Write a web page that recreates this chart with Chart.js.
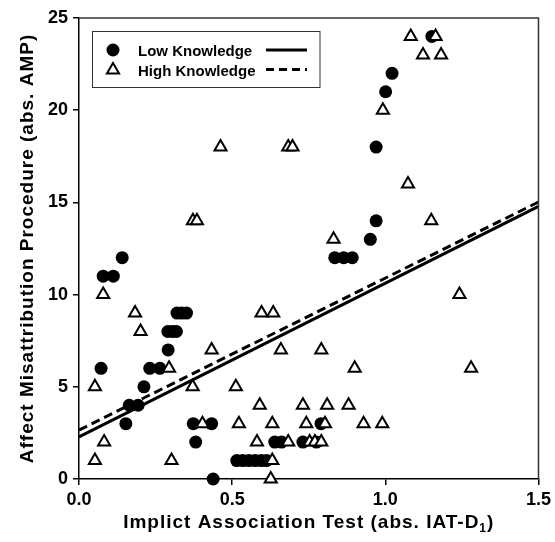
<!DOCTYPE html>
<html>
<head>
<meta charset="utf-8">
<script src="https://cdn.jsdelivr.net/npm/chart.js@4.4.1/dist/chart.umd.min.js"></script>
<style>
  html, body { margin: 0; padding: 0; background: #fff; }
  #wrap { width: 555px; height: 542px; }
</style>
</head>
<body>
<div id="wrap"><canvas id="chart" width="555" height="542"></canvas></div>
<script>
// Low knowledge participants (filled circles)
var lowX = [1.152, 1.022, 1.001, 0.970, 0.970, 0.951, 0.835, 0.864, 0.892, 0.141,
            0.079, 0.112, 0.320, 0.335, 0.351, 0.290, 0.305, 0.318, 0.291, 0.072,
            0.231, 0.264, 0.212, 0.164, 0.193, 0.153, 0.373, 0.433, 0.790, 0.381,
            0.639, 0.661, 0.731, 0.775, 0.515, 0.535, 0.555, 0.575, 0.595, 0.612,
            0.438];
var lowY = [24, 22, 21, 18, 14, 13, 12, 12, 12, 12,
            11, 11, 9, 9, 9, 8, 8, 8, 7, 6,
            6, 6, 5, 4, 4, 3, 3, 3, 3, 2,
            2, 2, 2, 2, 1, 1, 1, 1, 1, 1,
            0];

// High knowledge participants (open triangles)
var highX = [1.083, 1.164, 1.123, 1.182, 0.992, 0.462, 0.683, 0.697, 1.074, 0.372,
             0.385, 1.150, 0.831, 0.079, 1.242, 0.183, 0.596, 0.634, 0.201, 0.433,
             0.659, 0.791, 0.294, 0.900, 1.280, 0.052, 0.371, 0.512, 0.590, 0.731,
             0.810, 0.880, 0.403, 0.522, 0.631, 0.742, 0.803, 0.929, 0.990, 0.082,
             0.581, 0.683, 0.753, 0.770, 0.791, 0.052, 0.302, 0.631, 0.626];
var highY = [24, 24, 23, 23, 20, 18, 18, 18, 16, 14,
             14, 14, 13, 10, 10, 9, 9, 9, 8, 7,
             7, 7, 6, 6, 6, 5, 5, 5, 4, 4,
             4, 4, 3, 3, 3, 3, 3, 3, 3, 2,
             2, 2, 2, 2, 2, 1, 1, 1, 0];

// Regression lines, ends at x = 0 and x = 1.5
var fitX = [0, 1.5];
var lowFit = [2.28, 14.78];
var highFit = [2.65, 15.02];

var xTicks = [0, 0.5, 1.0, 1.5];
var yTicks = [0, 5, 10, 15, 20, 25];

var FONT = '"Liberation Sans", Arial, Helvetica, sans-serif';

function toPoints(xs, ys) {
    var pts = [];
    for (var i = 0; i < xs.length; i++) pts.push({ x: xs[i], y: ys[i] });
    return pts;
}

// Draw frame, axis titles and the legend box
var decorations = {
    id: 'decorations',
    afterDraw: function (chart) {
        var ctx = chart.ctx;
        var a = chart.chartArea;
        ctx.save();

        // top and right frame
        ctx.strokeStyle = '#333';
        ctx.lineWidth = 1.5;
        ctx.beginPath();
        ctx.moveTo(a.left, a.top);
        ctx.lineTo(a.right, a.top);
        ctx.lineTo(a.right, a.bottom);
        ctx.stroke();

        // y title
        ctx.fillStyle = '#000';
        ctx.font = 'bold 19px ' + FONT;
        ctx.textAlign = 'center';
        ctx.textBaseline = 'alphabetic';
        ctx.letterSpacing = '1px';
        ctx.save();
        ctx.translate(32.5, (a.top + a.bottom) / 2);
        ctx.rotate(-Math.PI / 2);
        ctx.fillText('Affect Misattribution Procedure (abs. AMP)', 0, 0);
        ctx.restore();

        // x title with subscript
        var main = 'Implict Association Test (abs. IAT-D';
        var sub = '1';
        var tail = ')';
        ctx.textAlign = 'left';
        ctx.font = 'bold 19px ' + FONT;
        var wMain = ctx.measureText(main).width;
        var wTail = ctx.measureText(tail).width;
        ctx.font = 'bold 12px ' + FONT;
        var wSub = ctx.measureText(sub).width;
        var x0 = (a.left + a.right) / 2 - (wMain + wSub + wTail) / 2;
        var base = 528;
        ctx.font = 'bold 19px ' + FONT;
        ctx.fillText(main, x0, base);
        ctx.font = 'bold 12px ' + FONT;
        ctx.fillText(sub, x0 + wMain, base + 4);
        ctx.font = 'bold 19px ' + FONT;
        ctx.fillText(tail, x0 + wMain + wSub, base);
        ctx.letterSpacing = '0px';

        // legend
        ctx.strokeStyle = '#333';
        ctx.lineWidth = 1;
        ctx.strokeRect(92.5, 31.5, 227.5, 56);

        ctx.fillStyle = '#000';
        ctx.beginPath();
        ctx.arc(113, 50, 6.5, 0, Math.PI * 2);
        ctx.fill();

        var r = 7;
        ctx.beginPath();
        ctx.moveTo(113, 70 - r);
        ctx.lineTo(113 + r * Math.sin(2 * Math.PI / 3), 70 + r / 2);
        ctx.lineTo(113 - r * Math.sin(2 * Math.PI / 3), 70 + r / 2);
        ctx.closePath();
        ctx.fillStyle = '#fff';
        ctx.fill();
        ctx.strokeStyle = '#000';
        ctx.lineWidth = 2;
        ctx.stroke();

        ctx.fillStyle = '#000';
        ctx.font = 'bold 15px ' + FONT;
        ctx.textAlign = 'left';
        ctx.fillText('Low Knowledge', 138, 55.5);
        ctx.fillText('High Knowledge', 138, 75.5);

        ctx.lineWidth = 3;
        ctx.beginPath();
        ctx.moveTo(266, 50);
        ctx.lineTo(307, 50);
        ctx.stroke();
        ctx.setLineDash([8, 5]);
        ctx.beginPath();
        ctx.moveTo(266, 69.5);
        ctx.lineTo(307, 69.5);
        ctx.stroke();
        ctx.setLineDash([]);

        ctx.restore();
    }
};

new Chart(document.getElementById('chart'), {
    type: 'scatter',
    data: {
        datasets: [
            {
                label: 'Low Knowledge fit',
                type: 'line',
                data: toPoints(fitX, lowFit),
                borderColor: '#000',
                borderWidth: 3,
                pointRadius: 0,
                fill: false,
                clip: false,
                order: 0
            },
            {
                label: 'High Knowledge fit',
                type: 'line',
                data: toPoints(fitX, highFit),
                borderColor: '#000',
                borderWidth: 3,
                borderDash: [9, 5],
                pointRadius: 0,
                fill: false,
                clip: false,
                order: 0
            },
            {
                label: 'High Knowledge',
                data: toPoints(highX, highY),
                pointStyle: 'triangle',
                pointRadius: 7,
                pointBackgroundColor: '#fff',
                pointBorderColor: '#000',
                pointBorderWidth: 2,
                clip: false,
                order: 1
            },
            {
                label: 'Low Knowledge',
                data: toPoints(lowX, lowY),
                pointStyle: 'circle',
                pointRadius: 6.5,
                pointBackgroundColor: '#000',
                pointBorderColor: '#000',
                pointBorderWidth: 0,
                clip: false,
                order: 2
            }
        ]
    },
    options: {
        responsive: false,
        animation: false,
        events: [],
        layout: { padding: { top: 18, right: 16, left: 0, bottom: 0 } },
        plugins: {
            legend: { display: false },
            tooltip: { enabled: false }
        },
        scales: {
            x: {
                type: 'linear',
                min: 0,
                max: 1.5,
                afterFit: function (s) { s.height = 63; },
                afterBuildTicks: function (s) {
                    s.ticks = xTicks.map(function (v) { return { value: v }; });
                },
                ticks: {
                    color: '#000',
                    font: { family: FONT, size: 18, weight: 'bold' },
                    padding: 4,
                    maxRotation: 0,
                    callback: function (v) { return Number(v).toFixed(1); }
                },
                grid: {
                    drawOnChartArea: false,
                    drawTicks: true,
                    tickLength: 6,
                    color: '#000',
                    lineWidth: 1.5
                },
                border: { color: '#000', width: 1.5 }
            },
            y: {
                min: 0,
                max: 25,
                afterFit: function (s) { s.width = 79; },
                afterBuildTicks: function (s) {
                    s.ticks = yTicks.map(function (v) { return { value: v }; });
                },
                ticks: {
                    color: '#000',
                    font: { family: FONT, size: 18, weight: 'bold' },
                    padding: 5
                },
                grid: {
                    drawOnChartArea: false,
                    drawTicks: true,
                    tickLength: 6,
                    color: '#000',
                    lineWidth: 1.5
                },
                border: { color: '#000', width: 1.5 }
            }
        }
    },
    plugins: [decorations]
});
</script>
</body>
</html>
